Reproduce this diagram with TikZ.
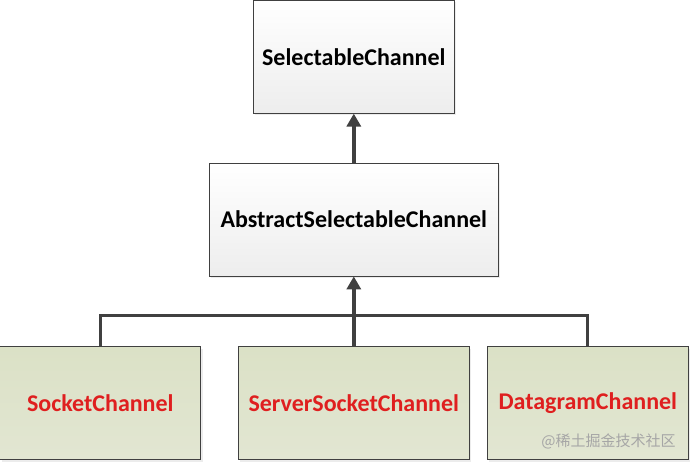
\documentclass[tikz,border=0pt]{standalone}
\usepackage{fontspec}
\setmainfont{Carlito}
\newfontfamily\cjkfont{Noto Sans CJK SC}
\usetikzlibrary{positioning, arrows.meta, shadows}
\definecolor{linegray}{HTML}{404040}
\definecolor{boxgreen}{HTML}{DBE1C6}
\definecolor{boxgreenlight}{HTML}{E2E6D2}
\definecolor{classred}{HTML}{DF1F1F}
\definecolor{markgray}{HTML}{A6A6A6}
\tikzstyle{baseclass} = [rectangle, minimum height=113pt, inner sep=0pt, text centered, draw=linegray, line width=0.8pt, top color=white, bottom color=black!7, drop shadow={opacity=0.15, shadow xshift=2pt, shadow yshift=-2pt}, font=\bfseries\fontsize{24}{28}\selectfont]
\tikzstyle{subclass} = [rectangle, minimum width=201pt, minimum height=113pt, inner sep=0pt, text centered, draw=linegray, line width=0.8pt, top color=boxgreen, bottom color=boxgreenlight, drop shadow={opacity=0.15, shadow xshift=2pt, shadow yshift=-2pt}, text=classred, font=\bfseries\fontsize{24}{28}\selectfont]
\tikzstyle{arrow} = [line width=3.4pt, draw=linegray, -{Triangle[width=14pt,length=13pt]}]
\tikzstyle{bus} = [line width=3.2pt, draw=linegray]

\begin{document}
\begin{tikzpicture}[node distance=162.8pt]
            \useasboundingbox (-353.8pt,56.7pt) rectangle (336.2pt,-405.3pt);
            \node (sel) [baseclass, minimum width=201pt] {SelectableChannel};
            \node (abs) [baseclass, minimum width=289pt, below of=sel] {AbstractSelectableChannel};
            \node (server) [subclass, minimum width=231pt, below of=abs, yshift=-20.7pt] {ServerSocketChannel};
            \node (socket) [subclass, left of=server, xshift=-90.7pt] {SocketChannel};
            \node (datagram) [subclass, right of=server, xshift=71.2pt] {DatagramChannel};
            \node (mark) [inner sep=0pt, text=markgray, font=\cjkfont\fontsize{15}{18}\selectfont, above left=11pt and 13pt of datagram.south east] {@稀土掘金技术社区};
            \coordinate [above=30.5pt of server.north] (bus);

            \draw [bus] (socket.north) |- (bus) -| (datagram.north);
            \draw [arrow] (server.north) -- (abs.south);
            \draw [arrow] (abs.north) -- (sel.south);
        \end{tikzpicture}
\end{document}
